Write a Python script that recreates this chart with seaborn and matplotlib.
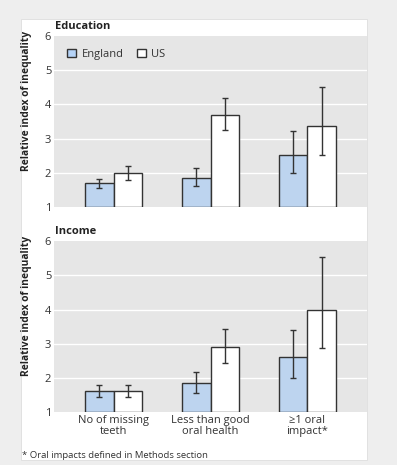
import matplotlib
matplotlib.use("Agg")
import matplotlib.pyplot as plt
import seaborn as sns
import pandas as pd
from matplotlib.patches import Rectangle, Patch

categories = ["No of missing\nteeth", "Less than good\noral health", "\u22651 oral\nimpact*"]
countries = ["England", "US"]

edu_england = [1.69, 1.84, 2.53]
edu_england_lo = [1.56, 1.61, 1.99]
edu_england_hi = [1.83, 2.15, 3.22]
edu_us = [2.00, 3.69, 3.38]
edu_us_lo = [1.79, 3.25, 2.53]
edu_us_hi = [2.21, 4.19, 4.52]

inc_england = [1.62, 1.85, 2.62]
inc_england_lo = [1.46, 1.57, 2.00]
inc_england_hi = [1.81, 2.19, 3.40]
inc_us = [1.62, 2.90, 3.98]
inc_us_lo = [1.46, 2.45, 2.88]
inc_us_hi = [1.79, 3.44, 5.52]

yticks = [1, 2, 3, 4, 5, 6]

sns.set_theme(style="white")
plt.rcParams["font.family"] = ["Open Sans", "DejaVu Sans"]

BLUE = "#b5d3f7"
EDGE = "#333333"
PLOTBG = "#e6e6e6"

fig = plt.figure(figsize=(3.97, 4.65), dpi=100)
fig.patch.set_facecolor("#eeeeee")
panel = Rectangle((21 / 397, 1 - 460 / 465), 346 / 397, 441 / 465,
                  transform=fig.transFigure, facecolor="white",
                  edgecolor="#dddddd", lw=0.6, zorder=-10)
fig.patches.append(panel)

ax1 = fig.add_axes([54 / 397, 1 - 207 / 465, 313 / 397, 171 / 465])
ax2 = fig.add_axes([54 / 397, 1 - 412.3 / 465, 313 / 397, 171.3 / 465])


def make_df(eng, us):
    rows = []
    for c, v in zip(categories, eng):
        rows.append({"cat": c, "country": "England", "val": v})
    for c, v in zip(categories, us):
        rows.append({"cat": c, "country": "US", "val": v})
    return pd.DataFrame(rows)


def draw(ax, eng, eng_lo, eng_hi, us, us_lo, us_hi, title, show_x, show_legend):
    df = make_df(eng, us)
    ax.set_facecolor(PLOTBG)
    sns.barplot(data=df, x="cat", y="val", hue="country", order=categories,
                hue_order=countries, palette={"England": BLUE, "US": "white"},
                edgecolor=EDGE, linewidth=1.0, width=0.59, ax=ax, legend=False,
                zorder=3)
    patches = list(ax.patches)
    lo = eng_lo + us_lo
    hi = eng_hi + us_hi
    vals = eng + us
    for p, v, l, h in zip(patches, vals, lo, hi):
        p.set_y(1)
        p.set_height(v - 1)
        xc = p.get_x() + p.get_width() / 2
        ax.errorbar(xc, v, yerr=[[v - l], [h - v]], color=EDGE, lw=1.0,
                    capsize=2.5, capthick=1.0, zorder=4)
    ax.set_ylim(1, 6)
    ax.set_xlim(-0.615, 2.615)
    ax.set_yticks(yticks)
    ax.set_yticklabels([str(t) for t in yticks], fontsize=8, color="#333333")
    for t in [2, 3, 4, 5]:
        ax.axhline(t, color="white", lw=1.0, zorder=1)
    for s in ax.spines.values():
        s.set_visible(False)
    ax.tick_params(axis="y", length=0, pad=2)
    ax.tick_params(axis="x", length=0, pad=2)
    ax.set_xlabel("")
    ax.set_ylabel("Relative index of inequality", fontsize=7.4, fontweight="bold",
                  color="#222222")
    ax.yaxis.set_label_coords(-0.07, 0.62)
    ax.set_title(title, loc="left", fontsize=8, fontweight="bold", color="#222222",
                 pad=5, x=0.003)
    if show_x:
        ax.set_xticks(range(len(categories)))
        ax.set_xticklabels(categories, fontsize=8, color="#333333", linespacing=1.0)
    else:
        ax.set_xticklabels([])
    if show_legend:
        handles = [Patch(facecolor=BLUE, edgecolor=EDGE, lw=1.0),
                   Patch(facecolor="white", edgecolor=EDGE, lw=1.0)]
        ax.legend(handles, countries, loc="upper left", ncol=2, frameon=False,
                  fontsize=8, handlelength=0.8, handleheight=0.8, handletextpad=0.5,
                  columnspacing=1.2, bbox_to_anchor=(0.01, 0.985),
                  labelcolor="#333333")


draw(ax1, edu_england, edu_england_lo, edu_england_hi, edu_us, edu_us_lo, edu_us_hi,
     "Education", False, True)
draw(ax2, inc_england, inc_england_lo, inc_england_hi, inc_us, inc_us_lo, inc_us_hi,
     "Income", True, False)

fig.text(22 / 397, 1 - 455 / 465, "* Oral impacts defined in Methods section",
         fontsize=6.8, color="#333333", va="center", ha="left")

fig.savefig("out.png", dpi=100, facecolor=fig.get_facecolor())
